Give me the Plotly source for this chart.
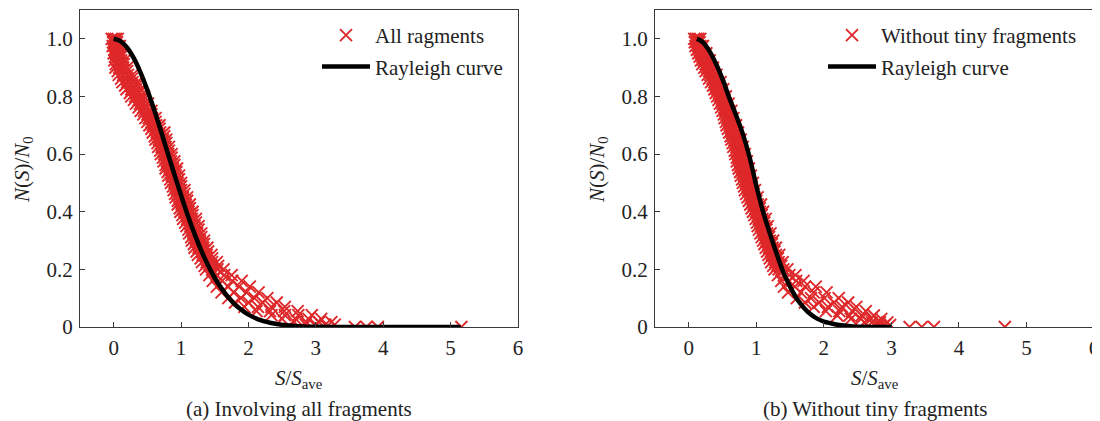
import plotly.graph_objects as go

# ---------------- data: panel (a) Involving all fragments ----------------
levels_a = [1.000, 0.975, 0.950, 0.925, 0.900, 0.875, 0.850, 0.825, 0.800, 0.775,
            0.750, 0.725, 0.700, 0.675, 0.650, 0.625, 0.600, 0.575, 0.550, 0.525,
            0.500, 0.475, 0.450, 0.425, 0.400, 0.375, 0.350, 0.325, 0.300, 0.275,
            0.250, 0.225, 0.200, 0.180, 0.160, 0.140, 0.120, 0.100, 0.085, 0.070,
            0.055, 0.041, 0.028, 0.017, 0.008]
xa_1 = [-0.03, -0.015, 0.00, 0.01, 0.025, 0.075, 0.13, 0.19, 0.26, 0.33,
        0.40, 0.47, 0.53, 0.58, 0.62, 0.66, 0.70, 0.74, 0.77, 0.81,
        0.85, 0.89, 0.92, 0.95, 0.99, 1.03, 1.08, 1.12, 1.16, 1.20,
        1.25, 1.31, 1.37, 1.42, 1.47, 1.53, 1.60, 1.70, 1.80, 1.94,
        2.12, 2.34, 2.50, 2.68, 2.85]
xa_2 = [0.00, 0.02, 0.04, 0.06, 0.08, 0.14, 0.20, 0.26, 0.32, 0.39,
        0.45, 0.52, 0.58, 0.64, 0.67, 0.71, 0.75, 0.79, 0.83, 0.86,
        0.90, 0.94, 0.98, 1.01, 1.05, 1.09, 1.14, 1.18, 1.22, 1.26,
        1.32, 1.38, 1.46, 1.53, 1.61, 1.70, 1.78, 1.89, 2.00, 2.14,
        2.32, 2.54, 2.70, 2.86, 3.00]
xa_3 = [0.03, 0.055, 0.08, 0.11, 0.14, 0.21, 0.28, 0.33, 0.39, 0.45,
        0.51, 0.57, 0.63, 0.69, 0.73, 0.77, 0.81, 0.85, 0.88, 0.92,
        0.95, 1.00, 1.03, 1.07, 1.11, 1.16, 1.20, 1.24, 1.28, 1.33,
        1.38, 1.46, 1.54, 1.64, 1.76, 1.86, 1.97, 2.09, 2.21, 2.34,
        2.53, 2.74, 2.89, 3.05, 3.14]
xa_4 = [0.06, 0.09, 0.12, 0.16, 0.20, 0.28, 0.35, 0.40, 0.45, 0.51,
        0.56, 0.62, 0.68, 0.75, 0.78, 0.82, 0.86, 0.90, 0.94, 0.97,
        1.00, 1.05, 1.09, 1.13, 1.17, 1.22, 1.26, 1.30, 1.34, 1.39,
        1.45, 1.53, 1.63, 1.75, 1.90, 2.02, 2.15, 2.28, 2.42, 2.54,
        2.73, 2.94, 3.08, 3.23, 3.28]
# staggered half-step levels filling the dense part of the band
levels_a_mid = [0.988, 0.962, 0.938, 0.912, 0.888, 0.862, 0.838, 0.812, 0.788, 0.762,
                0.738, 0.712, 0.688, 0.662, 0.638, 0.612, 0.588, 0.562, 0.538, 0.512,
                0.488, 0.462, 0.438, 0.412, 0.388, 0.362, 0.338, 0.312, 0.288, 0.262,
                0.238, 0.212]
xa_m1 = [-0.01, 0.01, 0.02, 0.03, 0.06, 0.11, 0.17, 0.24, 0.30, 0.37,
         0.44, 0.50, 0.56, 0.61, 0.65, 0.69, 0.73, 0.77, 0.80, 0.84,
         0.88, 0.91, 0.95, 0.98, 1.02, 1.06, 1.11, 1.15, 1.19, 1.23,
         1.29, 1.35]
xa_m2 = [0.02, 0.05, 0.07, 0.10, 0.13, 0.19, 0.26, 0.31, 0.37, 0.44,
         0.50, 0.56, 0.62, 0.68, 0.72, 0.76, 0.80, 0.84, 0.87, 0.91,
         0.94, 0.98, 1.02, 1.06, 1.10, 1.14, 1.19, 1.23, 1.27, 1.31,
         1.37, 1.44]
xa_m3 = [0.05, 0.08, 0.11, 0.15, 0.20, 0.27, 0.34, 0.38, 0.44, 0.50,
         0.56, 0.62, 0.68, 0.75, 0.78, 0.82, 0.86, 0.90, 0.93, 0.97,
         1.00, 1.05, 1.09, 1.13, 1.17, 1.22, 1.26, 1.30, 1.34, 1.40,
         1.46, 1.55]
xa_floor = [3.58, 3.75, 3.92, 5.16]
ya_floor = [0.0, 0.0, 0.0, 0.0]

curve_a_x = [0.0, 0.1, 0.2, 0.3, 0.4, 0.5, 0.6, 0.7, 0.8, 0.9, 1.0, 1.1, 1.2, 1.3,
             1.4, 1.5, 1.6, 1.7, 1.8, 1.9, 2.0, 2.2, 2.4, 2.6, 2.8, 3.0, 3.5, 4.0,
             4.5, 5.15]
curve_a_y = [1.0, 0.992, 0.969, 0.932, 0.882, 0.822, 0.754, 0.681, 0.605, 0.530,
             0.457, 0.387, 0.323, 0.265, 0.214, 0.170, 0.134, 0.103, 0.078, 0.059,
             0.043, 0.022, 0.011, 0.005, 0.002, 0.001, 0.0, 0.0, 0.0, 0.0]

# ---------------- data: panel (b) Without tiny fragments ----------------
levels_b = [1.000, 0.975, 0.950, 0.925, 0.900, 0.875, 0.850, 0.825, 0.800, 0.775,
            0.750, 0.725, 0.700, 0.675, 0.650, 0.625, 0.600, 0.575, 0.550, 0.525,
            0.500, 0.475, 0.450, 0.425, 0.400, 0.375, 0.350, 0.325, 0.300, 0.275,
            0.250, 0.225, 0.200, 0.180, 0.160, 0.140, 0.120, 0.100, 0.085, 0.070,
            0.055, 0.040, 0.028, 0.016, 0.007]
xb_1 = [0.08, 0.10, 0.14, 0.18, 0.23, 0.28, 0.33, 0.38, 0.42, 0.46,
        0.50, 0.53, 0.56, 0.60, 0.63, 0.66, 0.69, 0.71, 0.74, 0.77,
        0.80, 0.83, 0.87, 0.91, 0.95, 0.99, 1.02, 1.06, 1.10, 1.14,
        1.18, 1.22, 1.27, 1.32, 1.37, 1.41, 1.47, 1.60, 1.72, 1.85,
        2.03, 2.20, 2.40, 2.60, 2.75]
xb_2 = [0.11, 0.14, 0.18, 0.22, 0.27, 0.32, 0.38, 0.42, 0.46, 0.50,
        0.54, 0.57, 0.61, 0.64, 0.68, 0.71, 0.74, 0.76, 0.79, 0.82,
        0.85, 0.88, 0.92, 0.96, 1.00, 1.04, 1.07, 1.11, 1.15, 1.19,
        1.23, 1.28, 1.33, 1.41, 1.48, 1.57, 1.66, 1.81, 1.93, 2.06,
        2.23, 2.38, 2.55, 2.71, 2.83]
xb_3 = [0.14, 0.17, 0.22, 0.27, 0.32, 0.37, 0.42, 0.47, 0.51, 0.55,
        0.59, 0.62, 0.65, 0.69, 0.72, 0.75, 0.78, 0.81, 0.84, 0.87,
        0.90, 0.93, 0.97, 1.02, 1.05, 1.09, 1.12, 1.16, 1.20, 1.24,
        1.29, 1.33, 1.40, 1.49, 1.59, 1.72, 1.85, 2.01, 2.15, 2.27,
        2.42, 2.56, 2.70, 2.83, 2.90]
xb_4 = [0.17, 0.21, 0.26, 0.31, 0.36, 0.41, 0.47, 0.51, 0.55, 0.59,
        0.63, 0.66, 0.70, 0.73, 0.77, 0.80, 0.83, 0.86, 0.89, 0.92,
        0.95, 0.98, 1.02, 1.07, 1.10, 1.14, 1.17, 1.21, 1.25, 1.29,
        1.34, 1.39, 1.46, 1.58, 1.70, 1.88, 2.04, 2.22, 2.36, 2.48,
        2.62, 2.74, 2.85, 2.94, 2.98]
levels_b_mid = [0.988, 0.962, 0.938, 0.912, 0.888, 0.862, 0.838, 0.812, 0.788, 0.762,
                0.738, 0.712, 0.688, 0.662, 0.638, 0.612, 0.588, 0.562, 0.538, 0.512,
                0.488, 0.462, 0.438, 0.412, 0.388, 0.362, 0.338, 0.312, 0.288, 0.262,
                0.238, 0.212]
xb_m1 = [0.09, 0.12, 0.16, 0.20, 0.25, 0.30, 0.36, 0.40, 0.44, 0.48,
         0.52, 0.55, 0.58, 0.62, 0.65, 0.68, 0.71, 0.73, 0.76, 0.79,
         0.82, 0.85, 0.89, 0.93, 0.97, 1.01, 1.04, 1.08, 1.12, 1.16,
         1.20, 1.25]
xb_m2 = [0.13, 0.16, 0.20, 0.25, 0.30, 0.35, 0.40, 0.45, 0.49, 0.53,
         0.57, 0.60, 0.63, 0.67, 0.70, 0.73, 0.76, 0.79, 0.82, 0.85,
         0.88, 0.91, 0.95, 0.99, 1.03, 1.07, 1.10, 1.14, 1.18, 1.22,
         1.26, 1.31]
xb_m3 = [0.16, 0.19, 0.24, 0.29, 0.34, 0.39, 0.45, 0.49, 0.53, 0.57,
         0.61, 0.64, 0.68, 0.71, 0.75, 0.78, 0.81, 0.84, 0.87, 0.90,
         0.93, 0.96, 1.00, 1.05, 1.08, 1.12, 1.15, 1.19, 1.23, 1.27,
         1.32, 1.37]
xb_floor = [3.27, 3.45, 3.63, 4.68]
yb_floor = [0.0, 0.0, 0.0, 0.0]

curve_b_x = [0.12, 0.2, 0.3, 0.4, 0.5, 0.6, 0.7, 0.8, 0.9, 1.0, 1.1, 1.2, 1.3, 1.4,
             1.5, 1.6, 1.7, 1.8, 1.9, 2.0, 2.1, 2.2, 2.4, 2.6, 2.8, 3.0]
curve_b_y = [1.0, 0.99, 0.96, 0.915, 0.86, 0.795, 0.735, 0.67, 0.59, 0.49, 0.40,
             0.325, 0.255, 0.19, 0.14, 0.098, 0.068, 0.045, 0.029, 0.019, 0.013,
             0.008, 0.003, 0.001, 0.0, 0.0]

x_ticks = [0, 1, 2, 3, 4, 5, 6]
y_ticks = [0, 0.2, 0.4, 0.6, 0.8, 1.0]
y_tick_labels = ["0", "0.2", "0.4", "0.6", "0.8", "1.0"]

# ---------------- figure ----------------
RED = "rgb(222,40,42)"
FONT = "'Liberation Serif', 'Times New Roman', serif"
FS = 21
OFF = 8                      # default page body margin of the written html
W, H = 1100 - OFF, 421 - OFF


def px_x(p):
    return (p - OFF) / W


def px_y(p):
    return 1 - (p - OFF) / H


fig = go.Figure()

xs_a = xa_1 + xa_2 + xa_3 + xa_4 + xa_m1 + xa_m2 + xa_m3 + xa_floor
ys_a = levels_a * 4 + levels_a_mid * 3 + ya_floor
xs_b = xb_1 + xb_2 + xb_3 + xb_4 + xb_m1 + xb_m2 + xb_m3 + xb_floor
ys_b = levels_b * 4 + levels_b_mid * 3 + yb_floor

marker_style = dict(symbol="x-thin", size=12, color=RED,
                    line=dict(color=RED, width=1.9))

fig.add_trace(go.Scatter(x=xs_a, y=ys_a, mode="markers", name="All ragments",
                         marker=marker_style, xaxis="x", yaxis="y",
                         legend="legend", legendgroup="a1"))
fig.add_trace(go.Scatter(x=curve_a_x, y=curve_a_y, mode="lines", name="Rayleigh curve",
                         line=dict(color="black", width=4.5, shape="spline"),
                         xaxis="x", yaxis="y", legend="legend", legendgroup="a2"))
fig.add_trace(go.Scatter(x=xs_b, y=ys_b, mode="markers", name="Without tiny fragments",
                         marker=marker_style, xaxis="x2", yaxis="y2",
                         legend="legend2", legendgroup="b1"))
fig.add_trace(go.Scatter(x=curve_b_x, y=curve_b_y, mode="lines", name="Rayleigh curve",
                         line=dict(color="black", width=4.5, shape="spline"),
                         xaxis="x2", yaxis="y2", legend="legend2", legendgroup="b2"))

AX = "#3a3a3a"
TF = dict(family=FONT, size=FS, color="#222")
common_x = dict(range=[-0.5, 6], tickvals=x_ticks, ticks="inside", ticklen=5,
                tickwidth=1.2, tickcolor=AX, showline=True, linecolor=AX, linewidth=1.3,
                mirror=True, showgrid=False, zeroline=False, tickfont=TF,
                automargin=False, ticklabelstandoff=2)
common_y = dict(range=[0, 1.1], tickvals=y_ticks, ticktext=y_tick_labels,
                ticks="inside", ticklen=5, tickwidth=1.2, tickcolor=AX,
                showline=True, linecolor=AX, linewidth=1.3, mirror=True,
                showgrid=False, zeroline=False, tickfont=TF, automargin=False,
                ticklabelstandoff=2)

ydom = [px_y(327), px_y(10)]
leg_common = dict(xanchor="left", yanchor="top", bgcolor="rgba(0,0,0,0)", font=TF,
                  traceorder="grouped", tracegroupgap=1, itemwidth=48)
fig.update_layout(
    width=W, height=H,
    margin=dict(l=0, r=0, t=0, b=0, autoexpand=False),
    paper_bgcolor="white", plot_bgcolor="white",
    font=TF,
    xaxis=dict(domain=[px_x(80), px_x(518)], anchor="y", **common_x),
    yaxis=dict(domain=ydom, anchor="x", **common_y),
    xaxis2=dict(domain=[px_x(655), px_x(1094)], anchor="y2", **common_x),
    yaxis2=dict(domain=ydom, anchor="x2", **common_y),
    legend=dict(x=px_x(317), y=px_y(15), **leg_common),
    legend2=dict(x=px_x(823), y=px_y(15), **leg_common),
)

ann = []
for cx, cap, ytx in [(299, "(a) Involving all fragments", 23),
                     (874.5, "(b) Without tiny fragments", 598)]:
    ann.append(dict(x=px_x(cx), y=px_y(379), xref="paper", yref="paper",
                    text="<i>S</i>/<i>S</i><sub>ave</sub>", showarrow=False,
                    font=TF, xanchor="center", yanchor="middle"))
    ann.append(dict(x=px_x(cx), y=px_y(409), xref="paper", yref="paper",
                    text=cap, showarrow=False, font=TF,
                    xanchor="center", yanchor="middle"))
    ann.append(dict(x=px_x(ytx), y=px_y(170), xref="paper", yref="paper",
                    text="<i>N</i>(<i>S</i>)/<i>N</i><sub>0</sub>", showarrow=False,
                    textangle=-90, font=TF, xanchor="center", yanchor="middle"))
fig.update_layout(annotations=ann)

fig.write_html("out.html")
